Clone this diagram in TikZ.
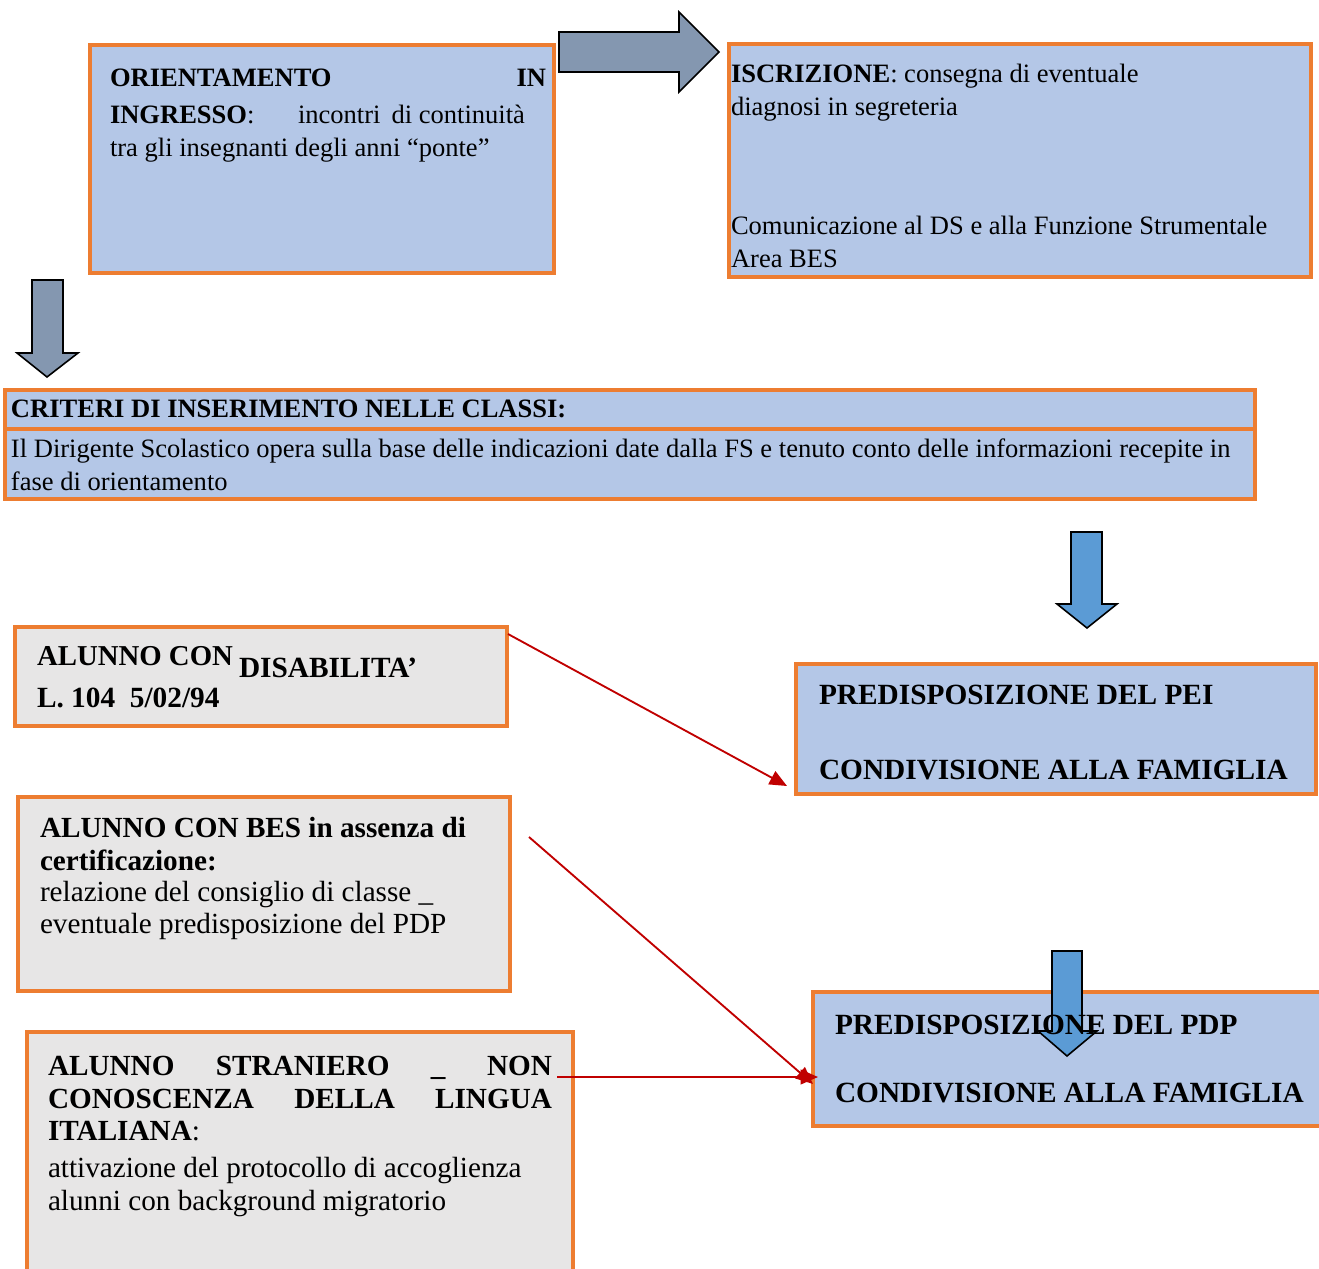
\documentclass[tikz,border=0pt]{standalone}
\usepackage{fontspec}
\setmainfont{Liberation Serif}
\usetikzlibrary{arrows.meta,calc}

\definecolor{boxblue}{RGB}{180,199,231}
\definecolor{boxgrey}{RGB}{231,230,230}
\definecolor{boxorange}{RGB}{237,125,49}
\definecolor{arrowslate}{RGB}{132,151,176}
\definecolor{arrowblue}{RGB}{91,155,213}
\definecolor{linkred}{RGB}{192,0,0}

\newcommand{\bodyfont}{\fontsize{19.9}{24}\selectfont}
\newcommand{\headfont}{\fontsize{22}{26}\selectfont}
\newcommand{\bigfont}{\fontsize{21.9}{26}\selectfont}

\tikzset{
  bluebox/.style={draw=boxorange, fill=boxblue, line width=2.6pt, anchor=north west, inner sep=0pt, outer sep=0pt},
  greybox/.style={bluebox, fill=boxgrey},
  textline/.style={anchor=base west, inner sep=0pt, outer sep=0pt},
  slatearrow/.style={draw=black, fill=arrowslate, line width=1.2pt, line join=miter},
  bluearrow/.style={draw=black, fill=arrowblue, line width=1.2pt, line join=miter},
  redlink/.style={draw=linkred, line width=1.4pt, -{Triangle[length=13pt,width=11pt]}}
}

\begin{document}
\begin{tikzpicture}[x=0.75pt,y=0.75pt,yscale=-1,xscale=1]
        \useasboundingbox (0,0) rectangle (1319,1269);

        % Boxes
        \node [bluebox, minimum width=348pt, minimum height=171pt] (orient) at (90,45) {};
        \node [bluebox, minimum width=436.5pt, minimum height=174.75pt] (iscriz) at (729,44) {};
        \node [bluebox, minimum width=937.5pt, minimum height=29.25pt] (crithead) at (5,390) {};
        \node [bluebox, minimum width=937.5pt, minimum height=52.5pt] (critbody) at (5,429) {};
        \node [greybox, minimum width=369pt, minimum height=74.25pt] (disab) at (15,627) {};
        \node [bluebox, minimum width=390pt, minimum height=97.5pt] (pei) at (796,664) {};
        \node [greybox, minimum width=369pt, minimum height=145.5pt] (bes) at (18,797) {};
        \node [bluebox, minimum width=384pt, minimum height=100.5pt] (pdp) at (813,992) {};
        \node [greybox, minimum width=409.5pt, minimum height=193.5pt] (stran) at (27,1032) {};

        % Block arrows
        \draw [slatearrow] (559,32) -- (679,32) -- (679,12) -- (719,52) -- (679,92) -- (679,72) -- (559,72) -- cycle ;
        \draw [slatearrow] (32,280) -- (63,280) -- (63,353) -- (78,353) -- (47,377) -- (17,353) -- (32,353) -- cycle ;
        \draw [bluearrow] (1071,532) -- (1102,532) -- (1102,604) -- (1117,604) -- (1087,628) -- (1057,604) -- (1071,604) -- cycle ;
        \draw [bluearrow] (1052,951) -- (1082,951) -- (1082,1031) -- (1097,1031) -- (1067,1056) -- (1038,1031) -- (1052,1031) -- cycle ;

        % Text
        \node [textline] (ori1) at (110,87) {\bodyfont\makebox[327pt][s]{\textbf{ORIENTAMENTO IN}}};
        \node [textline] (ori2) at (110,124) {\bodyfont\textbf{INGRESSO}:};
        \node [textline] (ori3) at (298,124) {\bodyfont incontri\ \,di continuità};
        \node [textline] (ori4) at (110,157) {\bodyfont tra gli insegnanti degli anni “ponte”};

        \node [textline] (isc1) at (731,83) {\bodyfont\textbf{ISCRIZIONE}: consegna di eventuale};
        \node [textline] (isc2) at (731,116) {\bodyfont diagnosi in segreteria};
        \node [textline] (isc3) at (731,235) {\bodyfont Comunicazione al DS e alla Funzione Strumentale};
        \node [textline] (isc4) at (731,268) {\bodyfont Area BES};

        \node [textline] (crit1) at (11,417) {\bodyfont\textbf{CRITERI DI INSERIMENTO NELLE CLASSI:}};
        \node [textline] (crit2) at (11,457) {\bodyfont Il Dirigente Scolastico opera sulla base delle indicazioni date dalla FS e tenuto conto delle informazioni recepite in};
        \node [textline] (crit3) at (11,490) {\bodyfont fase di orientamento};

        \node [textline] (dis1) at (37,665) {\fontsize{21.6}{26}\selectfont\textbf{ALUNNO CON}};
        \node [textline] (dis2) at (239,677) {\headfont\textbf{DISABILITA’}};
        \node [textline] (dis3) at (37,707) {\headfont\textbf{L. 104\ \ 5/02/94}};

        \node [textline] (pei1) at (819,704) {\headfont\textbf{PREDISPOSIZIONE DEL PEI}};
        \node [textline] (pei2) at (819,779) {\headfont\textbf{CONDIVISIONE ALLA FAMIGLIA}};

        \node [textline] (bes1) at (40,837) {\bigfont\textbf{ALUNNO CON BES in assenza di}};
        \node [textline] (bes2) at (40,870) {\bigfont\textbf{certificazione:}};
        \node [textline] (bes3) at (40,901) {\bigfont relazione del consiglio di classe \_};
        \node [textline] (bes4) at (40,933) {\bigfont eventuale predisposizione del PDP};

        \node [textline] (pdp1) at (835,1034) {\headfont\textbf{PREDISPOSIZIONE DEL PDP}};
        \node [textline] (pdp2) at (835,1102) {\headfont\textbf{CONDIVISIONE ALLA FAMIGLIA}};

        \node [textline] (str1) at (48,1075) {\bigfont\makebox[378pt][s]{\textbf{ALUNNO STRANIERO \_ NON}}};
        \node [textline] (str2) at (48,1108) {\bigfont\makebox[378pt][s]{\textbf{CONOSCENZA DELLA LINGUA}}};
        \node [textline] (str3) at (48,1140) {\bigfont\textbf{ITALIANA}:};
        \node [textline] (str4) at (48,1177) {\bigfont attivazione del protocollo di accoglienza};
        \node [textline] (str5) at (48,1210) {\bigfont alunni con background migratorio};

        % Links
        \draw [redlink] ($(disab.north east)+(1,7)$) -- ($(pei.south west)+(-9,-8)$) ;
        \draw [redlink] ($(bes.east)+(19,-57)$) -- ($(pdp.west)+(0,25)$) ;
        \draw [redlink] ($(stran.north east)+(-16,45)$) -- ($(pdp.west)+(5,18)$) ;

\end{tikzpicture}
\end{document}
